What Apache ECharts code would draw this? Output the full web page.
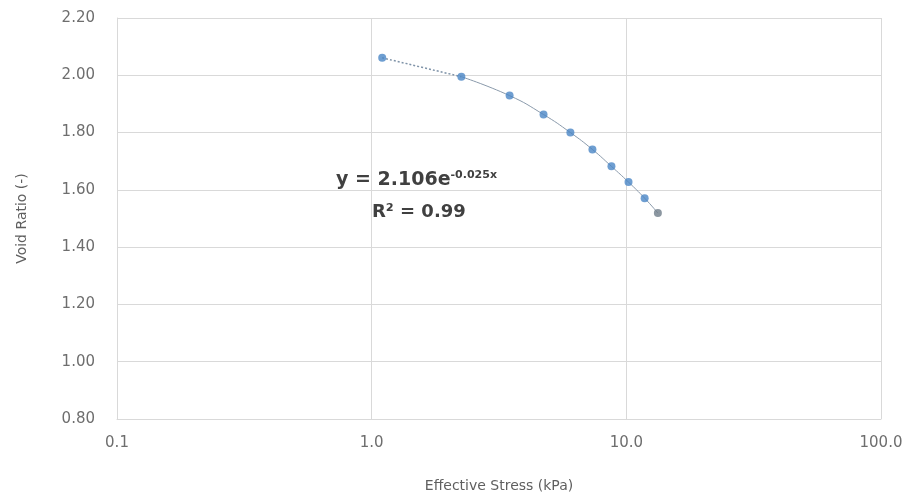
<!DOCTYPE html>
<html><head><meta charset="utf-8">
<script src="https://cdn.jsdelivr.net/npm/echarts@6/dist/echarts.min.js"></script>
<style>html,body{margin:0;padding:0;background:#fff}#c{width:908px;height:498px}</style>
</head><body><div id="c"></div>
<script>
var stress = [1.1, 2.25, 3.48, 4.73, 6.03, 7.36, 8.74, 10.2, 11.8, 13.3];
var voidRatio = [2.061, 1.995, 1.929, 1.863, 1.80, 1.741, 1.682, 1.627, 1.571, 1.519];
var xTicks = [0.1, 1, 10, 100];
var yTicks = [0.8, 1.0, 1.2, 1.4, 1.6, 1.8, 2.0, 2.2];
var equationText = 'y = 2.106e';
var equationExp = '-0.025x';
var r2Text = 'R² = 0.99';

var pts = stress.map(function(x, i){ return [x, voidRatio[i]]; });
var ptsStyled = pts.map(function(p, i){
  return {value: p, itemStyle: {color: i === pts.length - 1 ? '#6f7d8a' : '#4a86c5'}};
});
var font = '"DejaVu Sans", sans-serif';
var chart = echarts.init(document.getElementById('c'));
chart.setOption({
  animation: false,
  grid: {left: 117, right: 27, top: 18, bottom: 77},
  xAxis: {
    type: 'log', logBase: 10, min: 0.1, max: 100,
    name: 'Effective Stress (kPa)', nameLocation: 'middle', nameGap: 60,
    nameTextStyle: {color: '#5f5f5f', fontSize: 14, fontFamily: font},
    axisLine: {show: true, lineStyle: {color: '#d9d9d9'}},
    axisTick: {show: false},
    axisLabel: {color: '#6e6e6e', fontSize: 15, fontFamily: font, margin: 17,
      formatter: function(v){ return Number(v).toFixed(1); }},
    splitLine: {show: true, lineStyle: {color: '#d9d9d9'}},
    minorTick: {show: false}
  },
  yAxis: {
    type: 'value', min: 0.8, max: 2.2, interval: 0.2,
    name: 'Void Ratio (-)', nameLocation: 'middle', nameGap: 88, nameRotate: 90,
    nameTextStyle: {color: '#5f5f5f', fontSize: 14, fontFamily: font},
    axisLine: {show: true, lineStyle: {color: '#d9d9d9'}},
    axisTick: {show: false},
    axisLabel: {color: '#6e6e6e', fontSize: 15, fontFamily: font, margin: 22,
      formatter: function(v){ return Number(v).toFixed(2); }},
    splitLine: {show: true, lineStyle: {color: '#d9d9d9'}}
  },
  series: [
    {type: 'line', data: pts.slice(0, 2), symbol: 'none', smooth: true,
     lineStyle: {color: '#7f93a8', width: 1.5, type: [2, 2]}, z: 2},
    {type: 'line', data: pts.slice(1), symbol: 'none', smooth: true,
     lineStyle: {color: '#8a9aab', width: 1}, z: 2},
    {type: 'scatter', data: ptsStyled, symbol: 'circle', symbolSize: 8, z: 3}
  ],
  graphic: [
    {type: 'text', left: 336, top: 170, style: {
      rich: {
        m: {fontSize: 19, fontWeight: 'bold', fontFamily: font, fill: '#404040'},
        s: {fontSize: 11, fontWeight: 'bold', fontFamily: font, fill: '#404040', verticalAlign: 'top', padding: [0,0,10,0]}
      },
      text: '{m|' + equationText + '}{s|' + equationExp + '}'
    }},
    {type: 'text', left: 372, top: 203, style: {
      text: r2Text, fontSize: 18, fontWeight: 'bold', fontFamily: font, fill: '#404040'
    }}
  ]
});
</script></body></html>
